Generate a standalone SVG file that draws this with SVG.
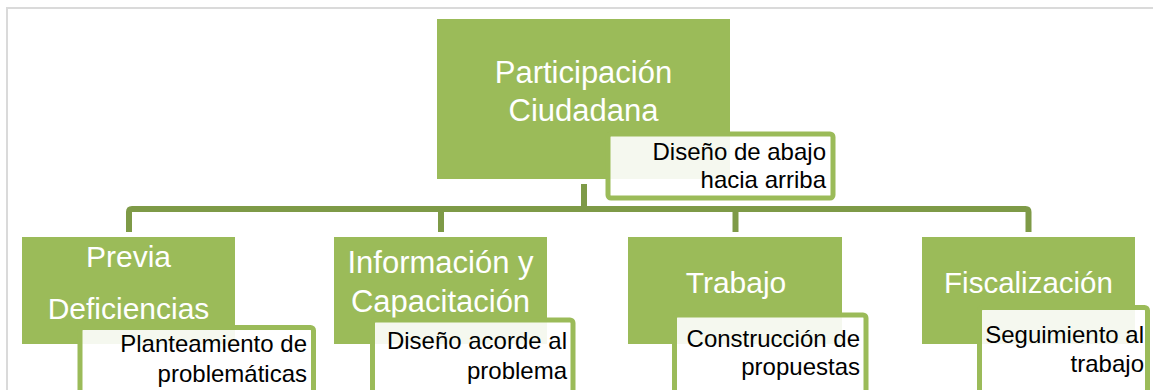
<svg xmlns="http://www.w3.org/2000/svg" width="1153" height="390" viewBox="0 0 1153 390">
  <style>
    .box { fill: #9bbb59; }
    .sub { fill: #ffffff; fill-opacity: 0.9; stroke: #9bbb59; stroke-width: 5; }
    .conn { fill: none; stroke: #7e9a47; stroke-width: 6; stroke-linejoin: round; }
    .frame { fill: none; stroke: #dadada; stroke-width: 2; }
    .t { font-family: "Liberation Sans", Arial, sans-serif; fill: #ffffff; text-anchor: middle; }
    .s { font-family: "Liberation Sans", Arial, sans-serif; fill: #000000; text-anchor: end; font-size: 24px; }
  </style>
  <rect x="0" y="0" width="1153" height="390" fill="#ffffff"/>
  <path class="frame" d="M7,390 V8 H1153"/>
  <g id="connectors">
    <path class="conn" d="M129,232 V212 Q129,209 132,209 H1025.5 Q1028.5,209 1028.5,212 V232"/>
    <path class="conn" d="M584,184 V209"/>
    <path class="conn" d="M441,209 V232"/>
    <path class="conn" d="M735.5,209 V232"/>
  </g>
  <g id="node-root">
    <rect class="box" x="437" y="19" width="293" height="160"/>
    <text class="t" x="583.5" y="83" font-size="31">Participación</text>
    <text class="t" x="583.5" y="121" font-size="31">Ciudadana</text>
    <rect class="sub" x="608" y="134" width="225" height="64" rx="3"/>
    <text class="s" x="826" y="160">Diseño de abajo</text>
    <text class="s" x="826" y="188">hacia arriba</text>
  </g>
  <g id="node-previa">
    <rect class="box" x="22" y="237" width="213" height="107"/>
    <text class="t" x="128.5" y="267" font-size="30">Previa</text>
    <text class="t" x="128.5" y="319" font-size="30">Deficiencias</text>
    <rect class="sub" x="80" y="327.5" width="233.5" height="80" rx="3"/>
    <text class="s" x="307" y="352">Planteamiento de</text>
    <text class="s" x="307" y="382">problemáticas</text>
  </g>
  <g id="node-informacion">
    <rect class="box" x="334" y="237" width="213" height="107"/>
    <text class="t" x="440.5" y="273" font-size="31">Información y</text>
    <text class="t" x="440.5" y="312" font-size="31">Capacitación</text>
    <rect class="sub" x="372.5" y="320" width="200.5" height="90" rx="3"/>
    <text class="s" x="567" y="349">Diseño acorde al</text>
    <text class="s" x="567" y="379">problema</text>
  </g>
  <g id="node-trabajo">
    <rect class="box" x="628" y="237" width="214" height="107"/>
    <text class="t" x="736" y="293" font-size="30">Trabajo</text>
    <rect class="sub" x="674.5" y="315" width="191.5" height="90" rx="3"/>
    <text class="s" x="860" y="347">Construcción de</text>
    <text class="s" x="860" y="375">propuestas</text>
  </g>
  <g id="node-fiscalizacion">
    <rect class="box" x="922" y="237" width="213" height="107"/>
    <text class="t" x="1028.5" y="293" font-size="29.5">Fiscalización</text>
    <rect class="sub" x="979.5" y="307.5" width="168" height="100" rx="3"/>
    <text class="s" x="1144" y="343">Seguimiento al</text>
    <text class="s" x="1144" y="372">trabajo</text>
  </g>
</svg>
